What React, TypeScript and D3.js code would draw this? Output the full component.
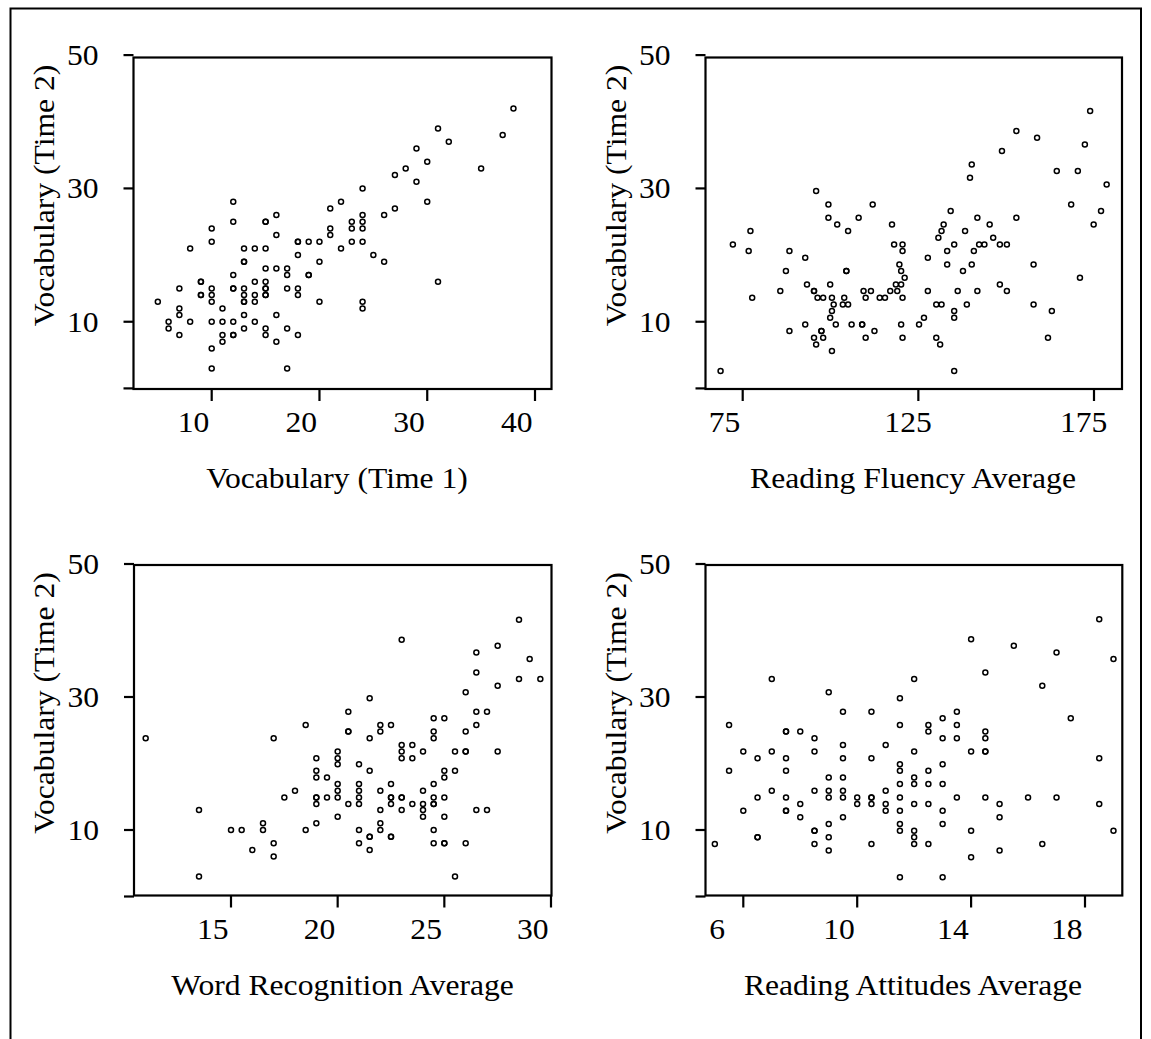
import React from 'react';
import * as d3 from 'd3';

// ---------- DATA ----------
const vocabTime1: [number, number][] = [
  [5,13],[6,10],[6,9],[7,15],[7,12],[7,11],[7,8],[8,21],[8,10],
  [9,16],[9,16],[9,14],[9,14],
  [10,24],[10,22],[10,15],[10,14],[10,13],[10,10],[10,6],[10,3],
  [11,12],[11,10],[11,8],[11,7],
  [12,28],[12,25],[12,17],[12,15],[12,15],[12,10],[12,8],[12,8],
  [13,21],[13,19],[13,19],[13,15],[13,14],[13,13],[13,13],[13,11],[13,9],
  [14,21],[14,16],[14,14],[14,13],[14,10],
  [15,25],[15,25],[15,21],[15,18],[15,16],[15,15],[15,15],[15,14],[15,14],[15,9],[15,8],
  [16,26],[16,23],[16,18],[16,11],[16,7],
  [17,18],[17,17],[17,15],[17,9],[17,3],
  [18,22],[18,22],[18,20],[18,15],[18,14],[18,8],
  [19,22],[19,17],[19,17],[20,22],[20,19],[20,13],
  [21,27],[21,24],[21,23],[22,28],[22,21],[23,25],[23,24],[23,22],
  [24,30],[24,26],[24,25],[24,24],[24,22],[24,13],[24,12],
  [25,20],[26,26],[26,19],[27,32],[27,27],[28,33],[29,36],[29,31],
  [30,34],[30,28],[31,39],[31,16],[32,37],[35,33],[37,38],[38,42],
];

const readingFluency: [number, number][] = [
  [68.7,2.6],[72.2,21.6],[76.7,20.6],[77.2,23.6],[77.7,13.6],[85.7,14.6],[87.3,17.6],
  [88.3,20.6],[88.3,8.6],[92.8,19.6],[93.3,15.6],[92.8,9.6],[95.3,14.6],[95.3,14.6],
  [95.9,29.6],[96.3,13.6],[97.9,13.6],[95.3,7.6],[95.9,6.6],[97.4,8.6],[97.4,8.6],
  [97.9,7.6],[99.4,27.6],[99.4,25.6],[99.9,15.6],[100.4,13.6],[100.9,12.6],[100.4,11.6],
  [99.9,10.6],[101.5,9.6],[100.4,5.6],[101.9,24.6],[105,23.6],[104.5,17.6],[104.5,17.6],
  [103.9,13.6],[103.5,12.6],[105,12.6],[106,9.6],[108,25.6],[109,9.6],[109,9.6],
  [109.4,14.6],[110,13.6],[111.5,14.6],[112,27.6],[112.5,8.6],[110,7.6],[114,13.6],
  [115.5,13.6],[117,14.6],[117.5,24.6],[118.1,21.6],[118.6,15.6],[119,14.6],[119.6,18.6],
  [120.1,17.6],[120.1,15.6],[120.5,21.6],[120.5,20.6],[120.5,13.6],[121.1,16.6],
  [120.1,9.6],[120.5,7.6],
  [125.2,9.6],[126.6,10.6],[127.7,19.6],[127.7,14.6],[130.1,12.6],[131.6,12.6],[130.1,7.6],
  [131.2,6.6],[130.7,22.6],[131.6,23.6],[132.2,24.6],[133.2,20.6],[133.2,18.6],[134.2,26.6],
  [135.2,21.6],[135.2,11.6],[135.2,10.6],[135.2,2.6],[136.2,14.6],[137.7,17.6],[138.3,23.6],
  [138.8,12.6],[139.7,31.6],[140.2,33.6],[140.2,18.6],[140.8,20.6],[141.8,25.6],[141.8,14.6],
  [142.3,21.6],[143.8,21.6],[145.3,24.6],[146.3,22.6],[148.2,21.6],[150.2,21.6],[148.2,15.6],
  [150.2,14.6],[148.8,35.6],[152.9,38.6],[152.9,25.6],[157.8,18.6],[157.8,12.6],[158.8,37.6],
  [161.9,7.6],[163,11.6],[164.4,32.6],[168.5,27.6],[170.4,32.6],[171,16.6],[172.4,36.6],
  [173.9,41.6],[174.9,24.6],[177,26.6],[178.6,30.6],
];

const wordRecognition: [number, number][] = [
  [11,23.8],[13.5,13],[13.5,3],[15,10],[15.5,10],[16,7],[16.5,11],[16.5,10],[17,23.8],
  [17,8],[17,6],[17.5,14.9],[18,15.9],[18.5,25.8],[18.5,10],[19,20.8],[19,18.9],[19,17.9],
  [19,14.9],[19,14.9],[19,13.9],[19,11],[19.5,17.9],[19.5,14.9],[20,21.8],[20,20.8],
  [20,19.9],[20,16.9],[20,15.9],[20,14.9],[20,12],
  [20.5,27.8],[20.5,24.8],[20.5,24.8],[20.5,13.9],[21,19.9],[21,16.9],[21,15.9],[21,14.9],
  [21,13.9],[21,10],[21,8],[21.5,29.8],[21.5,23.8],[21.5,18.9],[21.5,9],[21.5,9],[21.5,7],
  [22,25.8],[22,24.8],[22,15.9],[22,13],[22,11],[22,10],[22.5,25.8],[22.5,16.9],[22.5,14.9],
  [22.5,14.9],[22.5,13.9],[22.5,9],[22.5,9],[23,38.6],[23,22.8],[23,21.8],[23,20.8],
  [23,14.9],[23,14.9],[23,13],[23.5,22.8],[23.5,20.8],[23.5,13.9],[24,21.8],[24,15.9],
  [24,13.9],[24,13],[24,12],[24.5,26.8],[24.5,24.8],[24.5,23.8],[24.5,16.9],[24.5,14.9],
  [24.5,13.9],[24.5,13.9],[24.5,10],[24.5,8],[25,26.8],[25,18.9],[25,17.9],[25,14.9],
  [25,12],[25,8],[25,8],[25.5,21.8],[25.5,18.9],[25.5,3],[26,30.7],[26,24.8],[26,21.8],
  [26,21.8],[26,8],[26.5,36.7],[26.5,33.7],[26.5,27.8],[26.5,25.8],[26.5,13],[27,27.8],
  [27,13],[27.5,37.7],[27.5,31.7],[27.5,21.8],[28.5,41.6],[28.5,32.7],[29,35.7],[29.5,32.7],
];

const readingAttitudes: [number, number][] = [
  [5,7.9],[5.5,25.8],[5.5,18.9],[6,21.8],[6,12.9],[6.5,20.8],[6.5,14.9],[6.5,8.9],[6.5,8.9],
  [7,32.7],[7,21.8],[7,15.9],[7.5,24.8],[7.5,24.8],[7.5,20.8],[7.5,18.9],[7.5,14.9],
  [7.5,12.9],[7.5,12.9],[8,24.8],[8,13.9],[8,11.9],[8.5,23.8],[8.5,21.8],[8.5,15.9],
  [8.5,9.9],[8.5,9.9],[8.5,7.9],[9,30.7],[9,17.9],[9,15.9],[9,14.9],[9,10.9],[9,8.9],
  [9,6.9],[9.5,27.8],[9.5,22.8],[9.5,20.8],[9.5,17.9],[9.5,15.9],[9.5,14.9],[9.5,11.9],
  [10,14.9],[10,13.9],[10.5,27.8],[10.5,20.8],[10.5,14.9],[10.5,14.9],[10.5,13.9],[10.5,7.9],
  [11,22.8],[11,15.9],[11,13.9],[11,12.9],[11.5,29.8],[11.5,25.8],[11.5,19.9],[11.5,18.9],
  [11.5,16.9],[11.5,14.9],[11.5,12.9],[11.5,10.9],[11.5,9.9],[11.5,2.9],
  [12,32.7],[12,21.8],[12,17.9],[12,16.9],[12,13.9],[12,9.9],[12,8.9],[12,7.9],
  [12.5,25.8],[12.5,24.8],[12.5,18.9],[12.5,16.9],[12.5,13.9],[12.5,7.9],
  [13,26.8],[13,23.8],[13,19.9],[13,16.9],[13,12.9],[13,10.9],[13,2.9],
  [13.5,27.8],[13.5,25.8],[13.5,23.8],[13.5,14.9],[14,38.7],[14,21.8],[14,9.9],[14,5.9],
  [14.5,33.7],[14.5,24.8],[14.5,23.8],[14.5,21.8],[14.5,21.8],[14.5,14.9],[15,13.9],
  [15,11.9],[15,6.9],[15.5,37.7],[16,14.9],[16.5,31.7],[16.5,7.9],[17,36.7],[17,14.9],
  [17.5,26.8],[18.5,41.7],[18.5,20.8],[18.5,13.9],[19,35.7],[19,9.9],
];

const xTicksVocab = [10, 20, 30, 40];
const xTicksFluency = [75, 125, 175];
const xTicksWord = [15, 20, 25, 30];
const xTicksAttitude = [6, 10, 14, 18];
const yTicks = [0, 10, 30, 50];
const yTickLabels = ['', '10', '30', '50'];
const xTitles = ['Vocabulary (Time 1)', 'Reading Fluency Average', 'Word Recognition Average', 'Reading Attitudes Average'];
const yTitle = 'Vocabulary (Time 2)';

// ---------- LAYOUT ----------
const FONT = '"Liberation Serif", "Times New Roman", Times, serif';
const FS = 29;
const SX = 1.09;

type Box = { l: number; r: number; t: number; b: number };
type PanelCfg = {
  data: [number, number][];
  xTicks: number[];
  xTitle: string;
  xDomain: [number, number];
  xRange: [number, number];
  yRange: [number, number];
  box: Box;
  titleX: number;
};

const panels: PanelCfg[] = [
  { data: vocabTime1, xTicks: xTicksVocab, xTitle: xTitles[0], xDomain: [10, 40], xRange: [211.7, 535],
    yRange: [388.4, 55.1], box: { l: 133.5, r: 551.5, t: 57.5, b: 389 }, titleX: 337 },
  { data: readingFluency, xTicks: xTicksFluency, xTitle: xTitles[1], xDomain: [75, 175], xRange: [742.7, 1094],
    yRange: [388.4, 55.1], box: { l: 705.5, r: 1122, t: 57.5, b: 389 }, titleX: 913 },
  { data: wordRecognition, xTicks: xTicksWord, xTitle: xTitles[2], xDomain: [15, 30], xRange: [231, 551],
    yRange: [896.5, 564], box: { l: 134, r: 551.5, t: 565, b: 895.5 }, titleX: 342.5 },
  { data: readingAttitudes, xTicks: xTicksAttitude, xTitle: xTitles[3], xDomain: [6, 18], xRange: [743.3, 1085],
    yRange: [896.5, 564], box: { l: 705.5, r: 1122.3, t: 565, b: 895.5 }, titleX: 913 },
];

function Panel({ p }: { p: PanelCfg }) {
  const x = d3.scaleLinear().domain(p.xDomain).range(p.xRange);
  const y = d3.scaleLinear().domain([0, 50]).range(p.yRange);
  const { l, r, t, b } = p.box;
  return (
    <g>
      <rect x={l} y={t} width={r - l} height={b - t} fill="none" stroke="#000" strokeWidth={2.2} />
      {yTicks.map((v, i) => (
        <g key={'y' + i}>
          <line x1={l - 10} x2={l} y1={y(v)} y2={y(v)} stroke="#000" strokeWidth={2.2} />
          {yTickLabels[i] && (
            <text transform={`translate(${l - 35},${y(v) + 10}) scale(${SX},1)`} textAnchor="end"
              fontFamily={FONT} fontSize={FS} fill="#000">{yTickLabels[i]}</text>
          )}
        </g>
      ))}
      {p.xTicks.map((v, i) => (
        <g key={'x' + i}>
          <line x1={x(v)} x2={x(v)} y1={b} y2={b + 12} stroke="#000" strokeWidth={2.2} />
          <text transform={`translate(${x(v) - 34},${b + 43}) scale(${SX},1)`} textAnchor="start"
            fontFamily={FONT} fontSize={FS} fill="#000">{String(v)}</text>
        </g>
      ))}
      <text transform={`translate(${p.titleX},${b + 99}) scale(${SX},1)`} textAnchor="middle"
        fontFamily={FONT} fontSize={FS} fill="#000">{p.xTitle}</text>
      <text transform={`translate(${l - 80},${t + 138}) rotate(-90) scale(${SX},1)`} textAnchor="middle"
        fontFamily={FONT} fontSize={FS} fill="#000">{yTitle}</text>
      {p.data.map((d, i) => (
        <circle key={i} cx={x(d[0])} cy={y(d[1])} r={2.5} fill="none" stroke="#000" strokeWidth={1.5} />
      ))}
    </g>
  );
}

export default function App() {
  return (
    <svg width={1151} height={1039} style={{ position: 'absolute', left: 0, top: 0, background: '#fff' }}>
      <rect x={0} y={0} width={1151} height={1039} fill="#fff" />
      <rect x={10.5} y={8.5} width={1130.5} height={1100} fill="none" stroke="#000" strokeWidth={2} />
      {panels.map((p, i) => <Panel key={i} p={p} />)}
    </svg>
  );
}
